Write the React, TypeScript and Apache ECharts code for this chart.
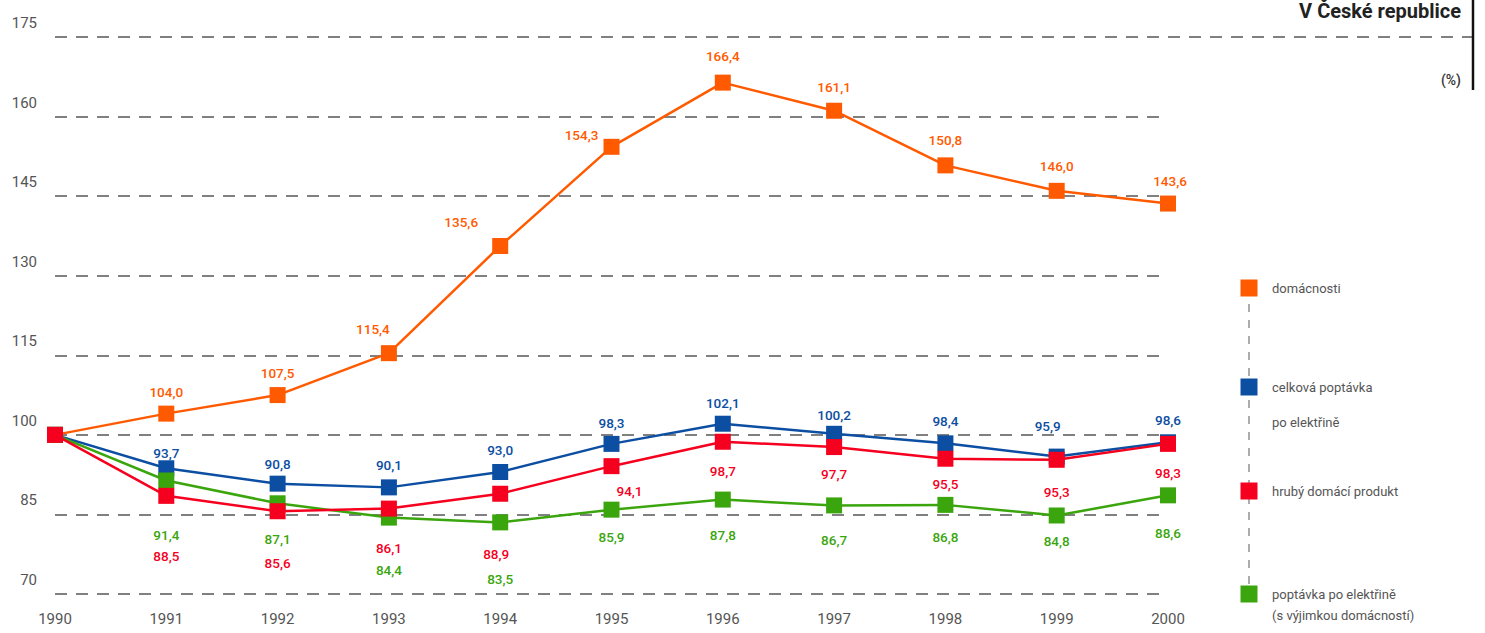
import React, { useEffect, useRef } from 'react';
import * as echarts from 'echarts';

const years = ['1990', '1991', '1992', '1993', '1994', '1995', '1996', '1997', '1998', '1999', '2000'];
const domacnosti = [100, 104.0, 107.5, 115.4, 135.6, 154.3, 166.4, 161.1, 150.8, 146.0, 143.6];
const celkovaPoptavka = [100, 93.7, 90.8, 90.1, 93.0, 98.3, 102.1, 100.2, 98.4, 95.9, 98.6];
const hdp = [100, 88.5, 85.6, 86.1, 88.9, 94.1, 98.7, 97.7, 95.5, 95.3, 98.3];
const bezDomacnosti = [100, 91.4, 87.1, 84.4, 83.5, 85.9, 87.8, 86.7, 86.8, 84.8, 88.6];

const seriesNames = [
  'domácnosti',
  'celková poptávka po elektřině',
  'hrubý domácí produkt',
  'poptávka po elektřině (s výjimkou domácností)',
];
const legendLines = [
  ['domácnosti'],
  ['celková poptávka', 'po elektřině'],
  ['hrubý domácí produkt'],
  ['poptávka po elektřině', '(s výjimkou domácností)'],
];
const yMin = 70;
const yMax = 175;
const yStep = 15;

// label placement (style only): offsets of each value label relative to its marker
const labelOffsets: number[][][] = [
  [[0, 0], [0, -22], [0, -22], [-16, -24], [-39, -24], [-30, -12], [0, -27], [0, -24], [0, -25], [0, -25], [2, -23]],
  [[0, 0], [0, -15], [0, -20], [0, -22], [0, -22], [0, -21], [0, -21], [0, -19], [0, -22], [-9, -31], [0, -22]],
  [[0, 0], [0, 60], [0, 52], [0, 39], [-4, 60], [18, 25], [0, 29], [0, 27], [0, 25], [0, 32], [0, 29]],
  [[0, 0], [0, 55], [0, 36], [0, 52], [0, 57], [0, 27], [0, 35], [0, 35], [0, 32], [0, 26], [0, 38]],
];
const colors = ['#ff5a00', '#0b4ea2', '#f5001e', '#3ba50e'];
const FONT = "Roboto, 'Liberation Sans', sans-serif";

export default function App() {
  const ref = useRef<HTMLDivElement>(null);
  useEffect(() => {
    const chart = echarts.init(ref.current!, null, { renderer: 'svg' });
    const allValues = [domacnosti, celkovaPoptavka, hdp, bezDomacnosti];
    const zs = [2, 3, 5, 4];
    const series = allValues.map((vals, si) => ({
      type: 'line',
      name: seriesNames[si],
      z: zs[si],
      symbol: 'rect',
      symbolSize: 16,
      lineStyle: { color: colors[si], width: 2.5 },
      itemStyle: { color: colors[si] },
      label: {
        show: true,
        position: 'inside',
        color: colors[si],
        fontFamily: FONT,
        fontSize: 13.5,
        fontWeight: 500,
        formatter: (p: any) => Number(p.value).toFixed(1).replace('.', ','),
      },
      data: vals.map((v, i) =>
        i === 0 ? { value: v, label: { show: false } } : { value: v, label: { offset: labelOffsets[si][i] } }
      ),
    }));

    chart.setOption({
      animation: false,
      backgroundColor: '#ffffff',
      grid: { left: 55, right: 317, top: 37, bottom: 39 },
      xAxis: {
        type: 'category',
        data: years,
        boundaryGap: false,
        axisLine: { show: false },
        axisTick: { show: false },
        axisLabel: { color: '#555', fontFamily: FONT, fontSize: 15, margin: 17 },
      },
      yAxis: {
        type: 'value',
        min: yMin,
        max: yMax,
        interval: yStep,
        axisLine: { show: false },
        axisTick: { show: false },
        axisLabel: {
          color: '#555',
          fontFamily: FONT,
          fontSize: 15,
          margin: 18,
          verticalAlign: 'bottom',
          lineHeight: 28,
        },
        splitLine: { show: true, lineStyle: { color: '#808080', width: 2, type: [12, 9] } },
      },
      series,
    });

    const yTop = chart.convertToPixel({ yAxisIndex: 0 }, yMax) as number;
    const xLast = chart.convertToPixel({ xAxisIndex: 0 }, years[years.length - 1]) as number;
    const legendY = [288, 387, 491, 594];
    const secondLineGap = [0, 35, 0, 21];
    const graphics: any[] = [
      {
        type: 'line',
        shape: { x1: xLast, y1: yTop, x2: 1472, y2: yTop },
        style: { stroke: '#808080', lineWidth: 2, lineDash: [12, 9] },
      },
      {
        type: 'line',
        shape: { x1: 1473, y1: 0, x2: 1473, y2: 90 },
        style: { stroke: '#111', lineWidth: 2.5 },
      },
      {
        type: 'text',
        x: 1461,
        y: 11,
        style: {
          text: 'V České republice',
          fill: '#222',
          font: `bold 20px ${FONT}`,
          textAlign: 'right',
          textVerticalAlign: 'middle',
        },
      },
      {
        type: 'text',
        x: 1461,
        y: 80,
        style: { text: '(%)', fill: '#333', font: `500 14px ${FONT}`, textAlign: 'right', textVerticalAlign: 'middle' },
      },
      {
        type: 'line',
        shape: { x1: 1249, y1: legendY[0], x2: 1249, y2: legendY[3] },
        style: { stroke: '#777', lineWidth: 1.2, lineDash: [8, 8] },
      },
    ];
    legendLines.forEach((lines, i) => {
      graphics.push({
        type: 'rect',
        shape: { x: 1240.5, y: legendY[i] - 8.5, width: 17, height: 17 },
        style: { fill: colors[i] },
        z: 10,
      });
      lines.forEach((t, li) => {
        graphics.push({
          type: 'text',
          x: 1272,
          y: legendY[i] + li * secondLineGap[i],
          style: { text: t, fill: '#555', font: `13px ${FONT}`, textVerticalAlign: 'middle' },
        });
      });
    });
    chart.setOption({ graphic: graphics });

    return () => chart.dispose();
  }, []);
  return <div ref={ref} style={{ position: 'absolute', left: 0, top: 0, width: 1485, height: 633 }} />;
}
